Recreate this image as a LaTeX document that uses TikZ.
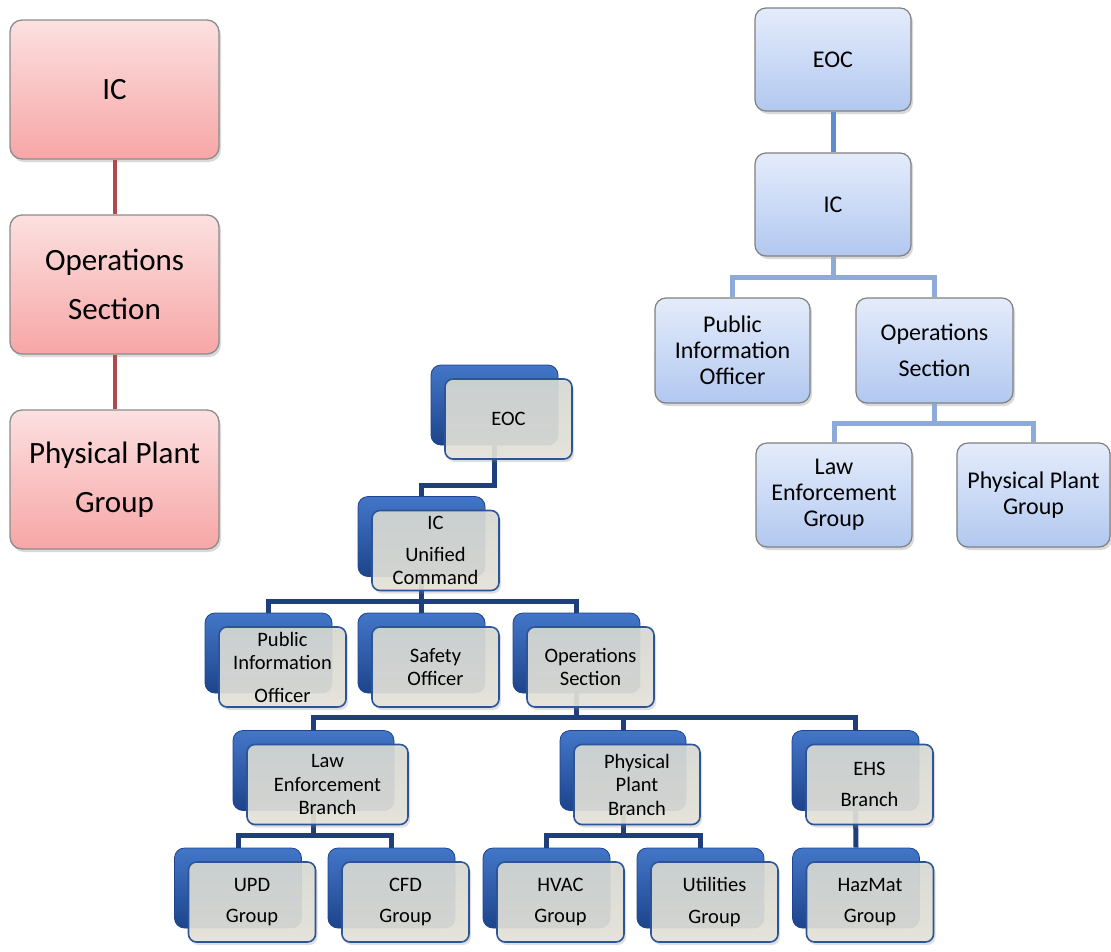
\documentclass[tikz,border=0pt]{standalone}
\usepackage{fontspec}
\setmainfont{Carlito}
\usetikzlibrary{shadows}
\definecolor{redT}{HTML}{FCE0E0}
\definecolor{redB}{HTML}{F7A6A6}
\definecolor{redL}{HTML}{B04A4A}
\definecolor{bluT}{HTML}{E4ECFB}
\definecolor{bluB}{HTML}{B2C8F0}
\definecolor{bluL}{HTML}{8EAAD8}
\definecolor{bluL2}{HTML}{5F8DCB}
\definecolor{navy}{HTML}{1F3F7C}
\definecolor{backT}{HTML}{4376C8}
\definecolor{backB}{HTML}{1D448C}
\definecolor{frontT}{HTML}{D8DAD4}
\definecolor{frontB}{HTML}{E6E4DA}
\definecolor{frontD}{HTML}{2B5597}
\begin{document}
\begin{tikzpicture}[x=1pt,y=-1pt,
  redbox/.style={draw=black!45, line width=1.3pt, rounded corners=12pt, top color=redT, bottom color=redB,
    minimum width=209pt, minimum height=139pt, align=center, inner sep=0pt,
    font=\fontsize{31}{49}\selectfont,
    drop shadow={shadow xshift=2pt, shadow yshift=-3pt, opacity=0.3}},
  bluebox/.style={draw=black!50, line width=1.2pt, rounded corners=11pt, top color=bluT, bottom color=bluB,
    minimum width=156pt, minimum height=103pt, align=center, inner sep=0pt,
    font=\fontsize{24}{26}\selectfont,
    drop shadow={shadow xshift=2pt, shadow yshift=-3pt, opacity=0.3}},
  redline/.style={draw=redL, line width=4pt},
  blueline/.style={draw=bluL, line width=5pt},
  bluelineD/.style={draw=bluL2, line width=5pt},
  dback/.style={draw=backB, line width=0.8pt, rounded corners=10pt, top color=backT, bottom color=backB,
    minimum width=127pt, minimum height=80pt, inner sep=0pt},
  dfront/.style={draw=frontD, line width=1.6pt, rounded corners=8pt, top color=frontT, bottom color=frontB,
    fill opacity=0.9, text opacity=1,
    minimum width=127pt, minimum height=80pt, inner sep=0pt, align=center, text=black,
    font=\fontsize{20.5}{23.5}\selectfont, xshift=14pt, yshift=-14pt,
    drop shadow={shadow xshift=2pt, shadow yshift=-3pt, opacity=0.25, fill opacity=0.25}},
  navyline/.style={draw=navy, line width=5pt},
]
\useasboundingbox (0,0) rectangle (1111,951);

% ---------- red chain ----------
\node[redbox] (rIC) at (114.5,89.5) {IC};
\node[redbox] (rOps) at (114.5,284.5) {Operations\\Section};
\node[redbox] (rPPG) at (114.5,479.5) {Physical Plant\\Group};
\draw[redline] (rIC.south) -- (rOps.north);
\draw[redline] (rOps.south) -- (rPPG.north);

% ---------- light blue tree ----------
\node[bluebox] (bEOC) at (833,59.5) {EOC};
\node[bluebox] (bIC) at (833,204.5) {IC};
\node[bluebox, minimum width=155pt, minimum height=105pt] (bPIO) at (732.5,350.5) {Public\\Information\\Officer};
\node[bluebox, minimum width=157pt, minimum height=105pt] (bOps) at (934.5,350.5) {Operations\\[10pt]Section};
\node[bluebox, minimum height=104pt] (bLaw) at (834,495) {Law\\Enforcement\\Group};
\node[bluebox, minimum width=153pt, minimum height=104pt] (bPPG) at (1033.5,495) {Physical Plant\\Group};
\coordinate (bj1) at (0,277);
\coordinate (bj2) at (0,423);
\draw[bluelineD] (bEOC.south) -- (bIC.south |- bEOC.south) -- (bIC.north);
\draw[blueline] (bIC.south) -- (bIC.south |- bj1) -| (bPIO.north);
\draw[blueline] (bIC.south |- bj1) -| (bOps.north);
\draw[blueline] (bOps.south) -- (bOps.south |- bj2) -| (bLaw.north);
\draw[blueline] (bOps.south |- bj2) -| (bPPG.north);

% ---------- dark tree: back boxes ----------
\node[dback] (dEOC) at (494.5,405) {};
\node[dback] (dIC) at (421.5,536.5) {};
\node[dback] (dPIO) at (268.5,653) {};
\node[dback] (dSaf) at (421.5,653) {};
\node[dback] (dOps) at (576.5,653) {};
\node[dback, minimum width=161pt] (dLaw) at (313.5,770.5) {};
\node[dback, minimum width=126pt] (dPPB) at (623,770.5) {};
\node[dback] (dEHS) at (855.5,770.5) {};
\node[dback] (dUPD) at (238,888) {};
\node[dback] (dCFD) at (391.5,888) {};
\node[dback] (dHVAC) at (546.5,888) {};
\node[dback] (dUtil) at (700.5,888) {};
\node[dback] (dHaz) at (856,888) {};

% ---------- dark tree: connectors ----------
\coordinate (dj1) at (0,485);
\coordinate (dj2) at (0,601);
\coordinate (dj3) at (0,717);
\coordinate (dj4) at (0,835);
\draw[navyline] (dEOC.south) -- (dEOC.south |- dj1) -| (dIC.north);
\draw[navyline] (dIC.south) -- (dIC.south |- dj2) -| (dPIO.north);
\draw[navyline] (dIC.south |- dj2) -| (dOps.north);
\draw[navyline] (dIC.south) -- (dSaf.north);
\draw[navyline] (dOps.south) -- (dOps.south |- dj3) -| (dLaw.north);
\draw[navyline] (dOps.south |- dj3) -| (dEHS.north);
\draw[navyline] (dPPB.north |- dj3) -- (dPPB.north);
\draw[navyline] (dLaw.south) -- (dLaw.south |- dj4) -| (dUPD.north);
\draw[navyline] (dLaw.south |- dj4) -| (dCFD.north);
\draw[navyline] (dPPB.south) -- (dPPB.south |- dj4) -| (dHVAC.north);
\draw[navyline] (dPPB.south |- dj4) -| (dUtil.north);
\draw[navyline] (dEHS.south) -- (dHaz.north);

% ---------- dark tree: front boxes ----------
\node[dfront] (fEOC) at (dEOC) {EOC};
\node[dfront] (fIC) at (dIC) {IC\\[8pt]Unified\\Command};
\node[dfront] (fPIO) at (dPIO) {Public\\Information\\[9pt]Officer};
\node[dfront] (fSaf) at (dSaf) {Safety\\Officer};
\node[dfront] (fOps) at (dOps) {Operations\\Section};
\node[dfront, minimum width=161pt] (fLaw) at (dLaw) {Law\\Enforcement\\Branch};
\node[dfront, minimum width=126pt] (fPPB) at (dPPB) {Physical\\Plant\\Branch};
\node[dfront] (fEHS) at (dEHS) {EHS\\[8pt]Branch};
\node[dfront] (fUPD) at (dUPD) {UPD\\[8pt]Group};
\node[dfront] (fCFD) at (dCFD) {CFD\\[8pt]Group};
\node[dfront] (fHVAC) at (dHVAC) {HVAC\\[8pt]Group};
\node[dfront] (fUtil) at (dUtil) {Utilities\\[8pt]Group};
\node[dfront] (fHaz) at (dHaz) {HazMat\\[8pt]Group};
\end{tikzpicture}
\end{document}
